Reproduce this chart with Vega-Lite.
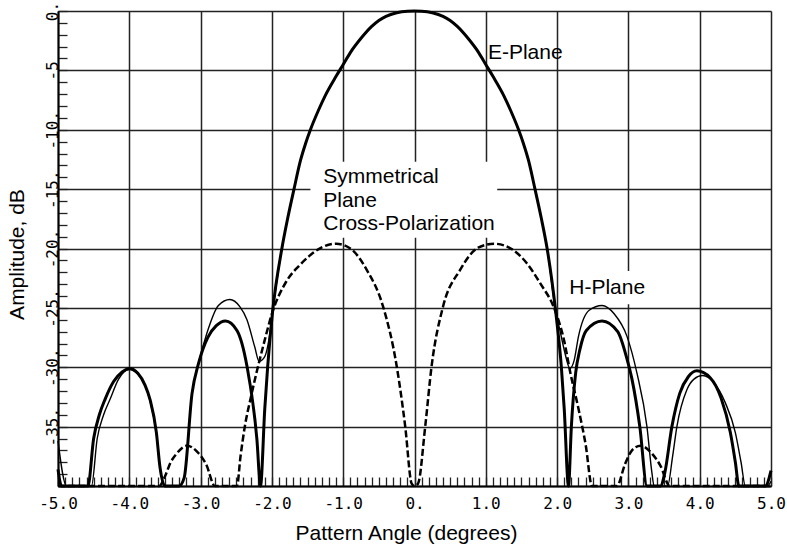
{
  "$schema": "https://vega.github.io/schema/vega-lite/v6.json",
  "width": 713,
  "height": 475,
  "autosize": "none",
  "padding": {"left": 58, "top": 11, "right": 16, "bottom": 63},
  "background": "white",
  "config": {"view": {"stroke": null}, "font": "Liberation Sans"},
  "datasets": {
    "curves": [
      {"s": "E", "x": -5.0, "y": -38.6}, {"s": "E", "x": -4.95, "y": -40}, {"s": "E", "x": -4.58, "y": -40},
      {"s": "E", "x": -4.5, "y": -36}, {"s": "E", "x": -4.42, "y": -34}, {"s": "E", "x": -4.34, "y": -32.7},
      {"s": "E", "x": -4.22, "y": -31.2}, {"s": "E", "x": -4.1, "y": -30.4}, {"s": "E", "x": -4.0, "y": -30.1},
      {"s": "E", "x": -3.88, "y": -30.5}, {"s": "E", "x": -3.78, "y": -31.5}, {"s": "E", "x": -3.71, "y": -32.7},
      {"s": "E", "x": -3.62, "y": -35.5}, {"s": "E", "x": -3.57, "y": -38.4}, {"s": "E", "x": -3.5, "y": -40},
      {"s": "E", "x": -3.3, "y": -40}, {"s": "E", "x": -3.23, "y": -39.3}, {"s": "E", "x": -3.12, "y": -32.2},
      {"s": "E", "x": -3.03, "y": -29.7}, {"s": "E", "x": -2.9, "y": -27.5}, {"s": "E", "x": -2.78, "y": -26.5},
      {"s": "E", "x": -2.65, "y": -26.1}, {"s": "E", "x": -2.49, "y": -26.9}, {"s": "E", "x": -2.35, "y": -29.9},
      {"s": "E", "x": -2.21, "y": -36.1}, {"s": "E", "x": -2.16, "y": -40}, {"s": "E", "x": -2.1, "y": -33.5},
      {"s": "E", "x": -2.06, "y": -30}, {"s": "E", "x": -1.99, "y": -25.3}, {"s": "E", "x": -1.86, "y": -20},
      {"s": "E", "x": -1.78, "y": -17.5}, {"s": "E", "x": -1.69, "y": -15}, {"s": "E", "x": -1.6, "y": -12.6},
      {"s": "E", "x": -1.53, "y": -11.2}, {"s": "E", "x": -1.46, "y": -10}, {"s": "E", "x": -1.35, "y": -8.4},
      {"s": "E", "x": -1.25, "y": -7.1}, {"s": "E", "x": -1.1, "y": -5.5}, {"s": "E", "x": -1.0, "y": -4.5},
      {"s": "E", "x": -0.9, "y": -3.5}, {"s": "E", "x": -0.75, "y": -2.3}, {"s": "E", "x": -0.6, "y": -1.3},
      {"s": "E", "x": -0.5, "y": -0.8}, {"s": "E", "x": -0.4, "y": -0.45}, {"s": "E", "x": -0.25, "y": -0.15},
      {"s": "E", "x": -0.1, "y": -0.02}, {"s": "E", "x": 0, "y": 0}, {"s": "E", "x": 0.1, "y": -0.02},
      {"s": "E", "x": 0.25, "y": -0.15}, {"s": "E", "x": 0.4, "y": -0.45}, {"s": "E", "x": 0.5, "y": -0.8},
      {"s": "E", "x": 0.6, "y": -1.3}, {"s": "E", "x": 0.75, "y": -2.3}, {"s": "E", "x": 0.9, "y": -3.5},
      {"s": "E", "x": 1.0, "y": -4.5}, {"s": "E", "x": 1.1, "y": -5.5}, {"s": "E", "x": 1.25, "y": -7.1},
      {"s": "E", "x": 1.35, "y": -8.4}, {"s": "E", "x": 1.46, "y": -10}, {"s": "E", "x": 1.53, "y": -11.2},
      {"s": "E", "x": 1.6, "y": -12.6}, {"s": "E", "x": 1.69, "y": -15}, {"s": "E", "x": 1.78, "y": -17.5},
      {"s": "E", "x": 1.86, "y": -20}, {"s": "E", "x": 1.98, "y": -25.3}, {"s": "E", "x": 2.06, "y": -30},
      {"s": "E", "x": 2.1, "y": -33.5}, {"s": "E", "x": 2.16, "y": -40}, {"s": "E", "x": 2.2, "y": -35},
      {"s": "E", "x": 2.26, "y": -30.5}, {"s": "E", "x": 2.32, "y": -28.5}, {"s": "E", "x": 2.41, "y": -26.9},
      {"s": "E", "x": 2.63, "y": -26.1}, {"s": "E", "x": 2.85, "y": -27}, {"s": "E", "x": 2.98, "y": -29.3},
      {"s": "E", "x": 3.05, "y": -31}, {"s": "E", "x": 3.16, "y": -35}, {"s": "E", "x": 3.26, "y": -40},
      {"s": "E", "x": 3.45, "y": -40}, {"s": "E", "x": 3.51, "y": -38.9}, {"s": "E", "x": 3.61, "y": -35},
      {"s": "E", "x": 3.72, "y": -32.2}, {"s": "E", "x": 3.84, "y": -30.8}, {"s": "E", "x": 3.96, "y": -30.3},
      {"s": "E", "x": 4.15, "y": -30.9}, {"s": "E", "x": 4.3, "y": -32.6}, {"s": "E", "x": 4.43, "y": -35.5},
      {"s": "E", "x": 4.5, "y": -38}, {"s": "E", "x": 4.55, "y": -40}, {"s": "E", "x": 4.92, "y": -40},
      {"s": "E", "x": 5.0, "y": -38.7},

      {"s": "H", "x": -5.0, "y": -36.2}, {"s": "H", "x": -4.88, "y": -40}, {"s": "H", "x": -4.53, "y": -40},
      {"s": "H", "x": -4.45, "y": -36}, {"s": "H", "x": -4.36, "y": -34}, {"s": "H", "x": -4.27, "y": -32.7},
      {"s": "H", "x": -4.15, "y": -31}, {"s": "H", "x": -4.0, "y": -30.2}, {"s": "H", "x": -3.88, "y": -30.6},
      {"s": "H", "x": -3.71, "y": -32.8}, {"s": "H", "x": -3.62, "y": -35.6}, {"s": "H", "x": -3.57, "y": -38.4},
      {"s": "H", "x": -3.5, "y": -40}, {"s": "H", "x": -3.3, "y": -40}, {"s": "H", "x": -3.23, "y": -39.3},
      {"s": "H", "x": -3.12, "y": -32.2}, {"s": "H", "x": -3.03, "y": -29.7}, {"s": "H", "x": -2.91, "y": -27.1},
      {"s": "H", "x": -2.75, "y": -24.8}, {"s": "H", "x": -2.59, "y": -24.3}, {"s": "H", "x": -2.45, "y": -24.9},
      {"s": "H", "x": -2.35, "y": -26.0}, {"s": "H", "x": -2.24, "y": -28.3}, {"s": "H", "x": -2.18, "y": -29.5},
      {"s": "H", "x": -2.1, "y": -29.1}, {"s": "H", "x": -2.04, "y": -27.6}, {"s": "H", "x": -1.99, "y": -25.3},
      {"s": "H", "x": -1.86, "y": -20}, {"s": "H", "x": -1.78, "y": -17.5}, {"s": "H", "x": -1.69, "y": -15},
      {"s": "H", "x": -1.6, "y": -12.6}, {"s": "H", "x": -1.53, "y": -11.2}, {"s": "H", "x": -1.46, "y": -10},
      {"s": "H", "x": -1.35, "y": -8.4}, {"s": "H", "x": -1.25, "y": -7.1}, {"s": "H", "x": -1.1, "y": -5.5},
      {"s": "H", "x": -1.0, "y": -4.5}, {"s": "H", "x": -0.9, "y": -3.5}, {"s": "H", "x": -0.75, "y": -2.3},
      {"s": "H", "x": -0.6, "y": -1.3}, {"s": "H", "x": -0.5, "y": -0.8}, {"s": "H", "x": -0.4, "y": -0.45},
      {"s": "H", "x": -0.25, "y": -0.15}, {"s": "H", "x": -0.1, "y": -0.02}, {"s": "H", "x": 0, "y": 0},
      {"s": "H", "x": 0.1, "y": -0.02}, {"s": "H", "x": 0.25, "y": -0.15}, {"s": "H", "x": 0.4, "y": -0.45},
      {"s": "H", "x": 0.5, "y": -0.8}, {"s": "H", "x": 0.6, "y": -1.3}, {"s": "H", "x": 0.75, "y": -2.3},
      {"s": "H", "x": 0.9, "y": -3.5}, {"s": "H", "x": 1.0, "y": -4.5}, {"s": "H", "x": 1.1, "y": -5.5},
      {"s": "H", "x": 1.25, "y": -7.1}, {"s": "H", "x": 1.35, "y": -8.4}, {"s": "H", "x": 1.46, "y": -10},
      {"s": "H", "x": 1.53, "y": -11.2}, {"s": "H", "x": 1.6, "y": -12.6}, {"s": "H", "x": 1.69, "y": -15},
      {"s": "H", "x": 1.78, "y": -17.5}, {"s": "H", "x": 1.86, "y": -20}, {"s": "H", "x": 1.98, "y": -25.3},
      {"s": "H", "x": 2.04, "y": -26.9}, {"s": "H", "x": 2.11, "y": -28.8}, {"s": "H", "x": 2.18, "y": -30.1},
      {"s": "H", "x": 2.24, "y": -29.4}, {"s": "H", "x": 2.3, "y": -27.4}, {"s": "H", "x": 2.45, "y": -25.2},
      {"s": "H", "x": 2.63, "y": -24.8}, {"s": "H", "x": 2.8, "y": -25.5}, {"s": "H", "x": 2.98, "y": -27.4},
      {"s": "H", "x": 3.12, "y": -30.5}, {"s": "H", "x": 3.26, "y": -35}, {"s": "H", "x": 3.33, "y": -38.9},
      {"s": "H", "x": 3.36, "y": -40}, {"s": "H", "x": 3.55, "y": -40}, {"s": "H", "x": 3.62, "y": -37.5},
      {"s": "H", "x": 3.68, "y": -35}, {"s": "H", "x": 3.82, "y": -31.9}, {"s": "H", "x": 3.92, "y": -31},
      {"s": "H", "x": 4.04, "y": -30.7}, {"s": "H", "x": 4.2, "y": -31.3}, {"s": "H", "x": 4.36, "y": -33},
      {"s": "H", "x": 4.5, "y": -35.5}, {"s": "H", "x": 4.58, "y": -38}, {"s": "H", "x": 4.64, "y": -40},
      {"s": "H", "x": 4.95, "y": -40}, {"s": "H", "x": 5.0, "y": -39.6},

      {"s": "X", "x": -5.0, "y": -40}, {"s": "X", "x": -3.58, "y": -40}, {"s": "X", "x": -3.5, "y": -39.2},
      {"s": "X", "x": -3.42, "y": -38}, {"s": "X", "x": -3.34, "y": -37.3}, {"s": "X", "x": -3.19, "y": -36.6},
      {"s": "X", "x": -3.05, "y": -37.1}, {"s": "X", "x": -2.92, "y": -38.2}, {"s": "X", "x": -2.8, "y": -40},
      {"s": "X", "x": -2.49, "y": -40}, {"s": "X", "x": -2.44, "y": -37.5}, {"s": "X", "x": -2.38, "y": -35},
      {"s": "X", "x": -2.29, "y": -32.4}, {"s": "X", "x": -2.1, "y": -27.7}, {"s": "X", "x": -2.0, "y": -25.5},
      {"s": "X", "x": -1.8, "y": -22.8}, {"s": "X", "x": -1.61, "y": -21.4}, {"s": "X", "x": -1.47, "y": -20.6},
      {"s": "X", "x": -1.3, "y": -19.9}, {"s": "X", "x": -1.1, "y": -19.6}, {"s": "X", "x": -0.9, "y": -20.0},
      {"s": "X", "x": -0.67, "y": -21.8}, {"s": "X", "x": -0.44, "y": -24.9}, {"s": "X", "x": -0.25, "y": -29.9},
      {"s": "X", "x": -0.13, "y": -35}, {"s": "X", "x": -0.04, "y": -39.8}, {"s": "X", "x": 0.0, "y": -40},
      {"s": "X", "x": 0.05, "y": -39.8}, {"s": "X", "x": 0.15, "y": -35}, {"s": "X", "x": 0.24, "y": -29.9},
      {"s": "X", "x": 0.4, "y": -24.9}, {"s": "X", "x": 0.64, "y": -21.8}, {"s": "X", "x": 0.9, "y": -19.9},
      {"s": "X", "x": 1.12, "y": -19.6}, {"s": "X", "x": 1.35, "y": -20.0}, {"s": "X", "x": 1.57, "y": -21.2},
      {"s": "X", "x": 1.76, "y": -22.9}, {"s": "X", "x": 1.97, "y": -25.2}, {"s": "X", "x": 2.1, "y": -27.8},
      {"s": "X", "x": 2.18, "y": -30.3}, {"s": "X", "x": 2.3, "y": -33.5}, {"s": "X", "x": 2.4, "y": -36.5},
      {"s": "X", "x": 2.49, "y": -40}, {"s": "X", "x": 2.84, "y": -40}, {"s": "X", "x": 2.95, "y": -38.2},
      {"s": "X", "x": 3.05, "y": -37.0}, {"s": "X", "x": 3.17, "y": -36.6}, {"s": "X", "x": 3.32, "y": -37.2},
      {"s": "X", "x": 3.45, "y": -38.3}, {"s": "X", "x": 3.58, "y": -40}, {"s": "X", "x": 5.0, "y": -40}
    ],
    "boxes": [
      {"x1": -1.46, "x2": 1.16, "y1": -12.7, "y2": -19.1},
      {"x1": 2.13, "x2": 3.26, "y1": -21.9, "y2": -24.7}
    ],
    "notes": [
      {"x": 1.03, "y": -3.54, "t": "E-Plane"},
      {"x": 2.17, "y": -23.34, "t": "H-Plane"},
      {"x": -1.28, "y": -13.97, "t": "Symmetrical"},
      {"x": -1.28, "y": -16.0, "t": "Plane"},
      {"x": -1.28, "y": -17.93, "t": "Cross-Polarization"}
    ]
  },
  "encoding": {
    "x": {
      "field": "x", "type": "quantitative",
      "scale": {"domain": [-5, 5], "nice": false, "zero": false},
      "axis": {
        "title": "Pattern Angle (degrees)",
        "values": [-5, -4.9, -4.8, -4.7, -4.6, -4.5, -4.4, -4.3, -4.2, -4.1, -4, -3.9, -3.8, -3.7, -3.6, -3.5, -3.4, -3.3, -3.2, -3.1, -3, -2.9, -2.8, -2.7, -2.6, -2.5, -2.4, -2.3, -2.2, -2.1, -2, -1.9, -1.8, -1.7, -1.6, -1.5, -1.4, -1.3, -1.2, -1.1, -1, -0.9, -0.8, -0.7, -0.6, -0.5, -0.4, -0.3, -0.2, -0.1, 0, 0.1, 0.2, 0.3, 0.4, 0.5, 0.6, 0.7, 0.8, 0.9, 1, 1.1, 1.2, 1.3, 1.4, 1.5, 1.6, 1.7, 1.8, 1.9, 2, 2.1, 2.2, 2.3, 2.4, 2.5, 2.6, 2.7, 2.8, 2.9, 3, 3.1, 3.2, 3.3, 3.4, 3.5, 3.6, 3.7, 3.8, 3.9, 4, 4.1, 4.2, 4.3, 4.4, 4.5, 4.6, 4.7, 4.8, 4.9, 5],
        "labelExpr": "abs(datum.value - round(datum.value)) < 0.001 ? (round(datum.value) == 0 ? '0.' : (datum.value < 0 ? '-' : '') + abs(round(datum.value)) + '.0') : ''",
        "labelOverlap": false, "labelFlush": false,
        "labelFont": "DejaVu Sans Mono", "labelFontSize": 16, "labelColor": "black",
        "labelBaseline": "top", "labelPadding": 18,
        "grid": true, "gridColor": "#222", "gridWidth": 1.5,
        "gridOpacity": {"condition": {"test": "abs(datum.value - round(datum.value)) < 0.001", "value": 1}, "value": 0},
        "tickSize": -9, "tickColor": "#222", "tickWidth": 1.3,
        "domainColor": "black", "domainWidth": 2,
        "titleFont": "Liberation Sans", "titleFontSize": 21, "titleFontWeight": "normal", "titleColor": "black",
        "titleX": 348, "titleY": 47, "titleAlign": "center", "titleBaseline": "middle"
      }
    },
    "y": {
      "field": "y", "type": "quantitative",
      "scale": {"domain": [-40, 0], "nice": false, "zero": false},
      "axis": {
        "title": "Amplitude, dB",
        "values": [-40, -39, -38, -37, -36, -35, -34, -33, -32, -31, -30, -29, -28, -27, -26, -25, -24, -23, -22, -21, -20, -19, -18, -17, -16, -15, -14, -13, -12, -11, -10, -9, -8, -7, -6, -5, -4, -3, -2, -1, 0],
        "labelExpr": "(datum.value % 5 == 0 && datum.value > -40) ? (datum.value == 0 ? '0.' : (datum.value == -5 ? '-5' : '-' + abs(datum.value) + '.')) : ''",
        "labelOverlap": false, "labelFlush": false,
        "labelFont": "DejaVu Sans Mono", "labelFontSize": 16, "labelColor": "black",
        "labelAngle": -90, "labelAlign": "center", "labelBaseline": "middle", "labelPadding": 15,
        "grid": true, "gridColor": "#222", "gridWidth": 1.5,
        "gridOpacity": {"condition": {"test": "datum.value % 5 == 0", "value": 1}, "value": 0},
        "tickSize": -9, "tickColor": "#222", "tickWidth": 1.3,
        "domainColor": "black", "domainWidth": 2,
        "titleFont": "Liberation Sans", "titleFontSize": 21, "titleFontWeight": "normal", "titleColor": "black",
        "titleAngle": -90, "titleX": -41, "titleY": 243, "titleAlign": "center", "titleBaseline": "middle"
      }
    }
  },
  "layer": [
    {
      "data": {"name": "boxes"},
      "mark": {"type": "rect", "fill": "white", "stroke": null},
      "encoding": {"x": {"field": "x1", "type": "quantitative"}, "x2": {"field": "x2"}, "y": {"field": "y1", "type": "quantitative"}, "y2": {"field": "y2"}}
    },
    {
      "data": {"name": "curves"},
      "transform": [{"filter": "datum.s === 'H'"}],
      "mark": {"type": "line", "interpolate": "monotone", "color": "black", "strokeWidth": 1.4}
    },
    {
      "data": {"name": "curves"},
      "transform": [{"filter": "datum.s === 'E'"}],
      "mark": {"type": "line", "interpolate": "monotone", "color": "black", "strokeWidth": 3}
    },
    {
      "data": {"name": "curves"},
      "transform": [{"filter": "datum.s === 'X'"}],
      "mark": {"type": "line", "interpolate": "monotone", "color": "black", "strokeWidth": 2.5, "strokeDash": [7, 3]}
    },
    {
      "data": {"name": "notes"},
      "mark": {"type": "text", "align": "left", "baseline": "middle", "font": "Liberation Sans", "fontSize": 21, "color": "black"},
      "encoding": {"text": {"field": "t"}}
    }
  ]
}
